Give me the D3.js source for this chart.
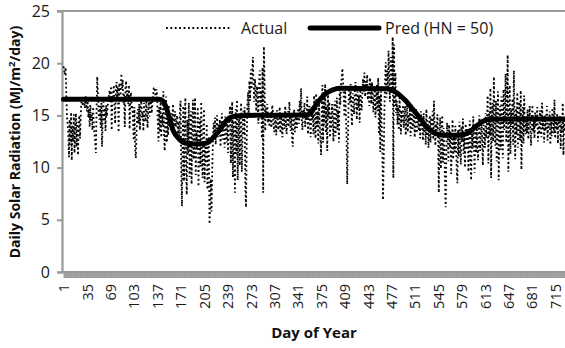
<!DOCTYPE html>
<html>
<head>
<meta charset="utf-8">
<script src="https://cdn.jsdelivr.net/npm/d3@7"></script>
<style>
  html, body { margin: 0; padding: 0; background: #fff; }
  svg { display: block; font-family: "Open Sans", sans-serif; }
</style>
</head>
<body>
<svg id="chart" width="565" height="348"></svg>
<script>
// Daily observed solar radiation (MJ/m²/day), day 1 .. 730
const actual = [
  19.7, 19.3, 18.9, 19.6, 17.2, 15.0, 14.2,
  13.1, 11.0, 14.6, 12.2, 15.3, 10.7, 14.0, 12.5, 15.1, 11.4, 13.8, 15.2, 12.0, 14.4, 11.2, 13.6, 15.0, 12.8, 14.9,
  16.2, 16.8, 15.9, 16.7, 16.4, 15.7, 16.9, 16.1, 15.4, 16.6,
  14.8, 15.6, 13.9, 16.0, 14.5, 15.2, 13.6, 15.8, 14.1, 13.2, 12.5,
  11.4,
  15.5, 18.7, 17.1, 15.3,
  14.6, 15.9, 13.8, 16.2, 12.0, 15.0, 16.3, 14.4, 15.7, 13.5, 16.0, 14.9, 15.8, 16.4,
  16.9, 17.4, 16.3, 17.8, 13.6, 17.2, 16.8, 17.9, 16.0, 14.2, 17.5, 18.2, 16.6, 17.7, 13.4, 18.1, 17.3, 16.9,
  19.0, 17.6, 18.4, 16.2, 17.0, 13.9, 17.8, 18.3, 16.5, 17.4, 16.1, 17.9, 13.7, 16.4, 17.2, 15.6, 16.0,
  14.3, 12.6, 15.8, 11.8, 10.9, 13.2, 15.1,
  15.6, 14.2, 16.1, 13.6, 15.9, 16.4, 14.8, 15.3, 13.5, 16.2, 15.0, 14.4, 16.5, 15.7, 13.8, 15.4, 16.3, 14.9,
  15.8, 16.6, 15.2, 16.0,
  16.8, 17.6, 17.7, 17.2, 16.4, 17.5, 16.9,
  14.2, 12.5, 15.8, 13.4, 16.3, 12.9, 15.1, 14.0,
  17.3, 13.2, 11.6, 15.5, 16.8, 12.4, 14.7, 13.1, 16.0, 14.3,
  14.5, 13.8, 15.2, 14.1, 16.1, 13.5, 14.8, 15.4, 13.9, 14.6, 15.0, 13.2, 14.4, 12.8, 15.3,
  16.4, 9.8, 6.3, 12.5, 15.9, 8.7, 13.8, 16.7, 10.2, 7.4, 14.6, 11.3, 16.2, 9.1, 12.8, 15.4,
  8.4, 13.6, 16.5, 10.8, 12.2, 16.7, 9.3, 13.4, 11.7, 15.8, 8.2, 12.9, 14.7, 10.1, 16.3, 11.5, 9.0, 13.3,
  15.6, 8.6, 12.1, 10.4, 14.2, 7.9, 11.8, 13.0,
  4.6, 6.3, 8.9, 5.8, 9.7,
  12.6, 14.3, 13.1, 14.8, 12.2, 13.7, 15.0, 12.9, 14.1, 13.4, 14.6, 12.0, 13.9, 15.2, 12.7, 14.4, 13.2, 11.9,
  14.9, 13.6, 12.4, 14.2, 11.4, 13.8, 14.7,
  15.9, 10.4, 13.2, 16.3, 9.1, 14.5, 12.0, 7.6, 15.6, 11.3, 16.5, 8.8, 13.7, 15.1, 10.2, 14.8, 16.2, 9.6, 12.9, 15.4,
  13.1, 15.8, 8.4, 6.2, 12.3, 16.0, 17.2, 15.1, 18.3, 16.4, 19.4, 17.5, 18.8, 20.6, 17.9, 16.3, 18.5, 17.1, 15.4,
  17.8, 16.6, 14.2, 18.1, 19.3, 15.9, 17.4, 12.8, 19.6, 7.6, 21.6, 18.2, 13.5, 15.7, 14.8, 16.1, 14.3, 15.2, 13.9,
  14.6, 15.3, 13.8, 16.0, 15.6, 14.1, 13.4, 15.0, 14.4, 13.1, 15.5, 14.7, 13.6, 14.2, 15.8, 13.3, 14.9, 14.0, 12.9, 15.2,
  14.5, 13.7, 15.9, 14.3, 13.2, 14.8, 15.4, 13.9, 16.3, 14.6, 13.5, 15.1, 12.6, 12.0, 14.7, 15.6, 13.4, 14.1, 15.3, 13.8,
  14.9, 15.7, 14.2, 16.4, 15.0, 17.6, 14.4, 13.6, 15.5, 14.8, 16.2, 13.9, 15.3, 14.5, 16.8, 13.2, 14.7, 15.9, 14.1, 12.9,
  15.4, 14.6,
  15.8, 13.2, 16.9, 14.5, 12.8, 17.1, 13.9, 15.4, 12.3, 16.2, 14.0, 13.1, 11.2,
  15.6, 17.9, 12.4, 16.6, 14.1, 18.0, 13.3, 15.9, 11.6, 17.2, 14.8, 16.3, 12.9,
  15.2, 13.7, 16.1, 14.4, 12.5, 15.8, 16.4, 13.0, 14.9, 16.7, 13.6, 15.5, 12.4, 17.4, 16.0,
  17.9, 18.6, 19.5, 18.1, 16.8, 14.9, 17.6, 15.2, 13.1, 8.4, 12.6, 16.3,
  17.8, 16.2, 18.0, 15.4, 14.0, 17.1, 16.6, 15.1, 17.5, 18.2, 16.0, 14.6, 17.3, 15.7, 16.9, 14.3, 17.7, 16.4, 15.5, 17.0,
  18.5, 17.2, 19.1, 16.8, 18.3, 17.6, 18.9, 16.5, 17.8, 15.9, 18.6, 17.4, 16.1, 18.2, 17.0, 15.3, 16.7, 17.5, 14.8, 16.2,
  17.9,
  15.4, 18.6, 13.2, 16.9, 11.5, 17.3, 14.1, 12.0, 6.9, 10.8, 15.6,
  18.4, 20.1, 16.7, 19.3, 17.5, 21.2, 18.8, 16.3, 20.6, 19.4, 17.2, 22.5, 9.0, 21.8, 15.9, 19.1,
  15.2, 16.4, 14.1, 15.8, 13.6, 16.7, 14.9, 13.2, 15.5, 14.3, 16.0, 13.8, 14.7, 15.9, 13.1, 14.5, 16.2, 13.4, 15.0, 14.2,
  15.7, 13.0, 14.8, 16.1, 13.7, 14.4, 15.3, 12.9, 14.6, 15.6, 13.3, 14.0, 15.1, 13.5, 14.9, 12.8, 15.4, 13.9, 14.3,
  12.6, 15.2, 13.4, 14.1, 12.2, 15.6, 13.0, 14.5, 11.9, 13.7, 15.0, 12.4, 14.8, 13.3, 15.4, 12.7, 16.4, 13.8, 12.1, 14.2,
  13.5, 15.1, 12.9,
  7.6, 13.4, 14.8, 9.9, 12.6, 15.0, 10.5, 13.8, 12.2, 8.7, 6.2, 11.4, 14.3,
  12.8, 10.6, 14.1, 11.9, 13.5, 9.4, 12.3, 14.6, 10.8, 13.2, 11.5, 14.0, 12.7, 9.8, 8.5, 13.6, 11.1, 14.4, 12.0, 10.3,
  13.9, 12.5, 14.7, 11.3, 13.1, 10.0, 14.2, 12.9, 11.7, 13.8, 9.6, 12.4, 14.5, 10.9, 8.8, 13.3, 11.8, 14.9, 12.6, 9.5,
  13.7, 11.4, 14.3, 12.1, 10.7, 13.5, 15.0, 11.6, 13.0, 14.6, 12.3, 10.2, 14.1, 13.4, 11.9, 15.2, 12.8,
  14.7, 16.9, 10.4, 15.3, 13.1, 17.6, 9.0, 14.9, 16.2, 12.5, 18.7, 13.8,
  12.1, 16.4, 10.6, 14.8, 17.3, 8.8, 13.5, 15.9, 11.7, 16.8, 14.2, 10.9, 17.5, 13.6, 15.2, 19.0, 12.4, 16.1, 20.8, 9.6,
  14.7, 17.9, 11.3, 15.5, 13.9, 16.6,
  12.2, 19.3, 14.5, 10.8, 15.7, 13.1, 17.2, 11.9, 14.9, 16.3, 12.6, 17.4, 9.8, 13.7, 15.8, 12.3, 16.9, 14.1, 13.2,
  14.8, 13.3, 15.6, 12.7, 14.2, 15.9, 13.6, 12.1, 14.9, 16.0, 13.4, 14.5, 12.8, 15.3, 13.9, 14.6, 15.8, 12.5, 14.0, 13.2,
  15.5, 14.3, 12.9, 16.2, 13.7, 14.8, 12.4, 15.1, 13.5, 14.7, 15.9, 12.6, 14.1, 13.8, 15.4, 12.2, 14.4, 13.0, 15.7, 14.6,
  13.3, 16.5, 12.8, 14.9, 13.6, 15.2, 12.3, 14.5, 13.9, 15.0, 11.8, 14.2, 13.4, 16.2, 11.2, 14.7, 13.5, 14.0
];

// Model prediction (HN = 50), sampled on selected days
const predDays = [1, 140, 145, 150, 155, 160, 168, 178, 193, 205, 213, 220, 228, 235, 242, 252, 265,
  355, 363, 372, 382, 392, 402, 470, 480, 490, 498, 508, 518, 528, 537, 547, 560, 580, 588, 595, 604, 614, 625, 730];
const predValues = [16.55, 16.55, 16.4, 15.8, 14.7, 13.6, 12.8, 12.35, 12.25, 12.3, 12.5, 13.0, 13.6, 14.3, 14.75, 14.95, 15.0,
  15.05, 15.6, 16.4, 17.1, 17.45, 17.6, 17.55, 17.35, 16.9, 16.4, 15.6, 14.8, 13.9, 13.4, 13.15, 13.1, 13.15, 13.3, 13.65, 14.15, 14.55, 14.65, 14.65];

const yTicks = [0, 5, 10, 15, 20, 25];
const xLabelDays = d3.range(1, 731, 34);
const seriesNames = ["Actual", "Pred (HN = 50)"];
const xTitle = "Day of Year";

const svg = d3.select("#chart");
const axisGray = "#999999";
const dotDash = "1.8,2.6";

const x = d3.scaleLinear().domain([1, 730]).range([63.5, 565.5]);
const y = d3.scaleLinear().domain([0, 25]).range([272, 11]);

// top boundary line at 25
svg.append("line")
  .attr("x1", 57).attr("x2", 565)
  .attr("y1", y(25)).attr("y2", y(25))
  .attr("stroke", axisGray).attr("stroke-width", 2);

// y axis
const yAxis = svg.append("g")
  .attr("transform", "translate(62,0)")
  .call(d3.axisLeft(y).tickValues(yTicks).tickSize(5).tickPadding(7));
yAxis.select(".domain").attr("stroke", axisGray).attr("stroke-width", 2.2);
yAxis.selectAll(".tick line").attr("stroke", axisGray).attr("stroke-width", 2);
yAxis.selectAll(".tick text")
  .attr("fill", "#1a1a1a").attr("font-size", 16)
  .attr("font-family", "'Open Sans', sans-serif");

// x axis: one tick per day forms a solid band beneath the axis
const allDays = d3.range(1, 731);
const xTicksBand = svg.append("g")
  .attr("transform", `translate(0,${y(0)})`)
  .call(d3.axisBottom(x).tickValues(allDays).tickSize(6).tickFormat(""));
xTicksBand.select(".domain").remove();
xTicksBand.selectAll(".tick line").attr("stroke", axisGray).attr("stroke-width", 1);

svg.append("line")
  .attr("x1", 61).attr("x2", 565)
  .attr("y1", y(0)).attr("y2", y(0))
  .attr("stroke", axisGray).attr("stroke-width", 2);

// x tick labels, rotated
const xLabels = svg.append("g")
  .attr("transform", `translate(0,${y(0)})`)
  .call(d3.axisBottom(x).tickValues(xLabelDays).tickSize(0).tickFormat(d3.format("d")));
xLabels.select(".domain").remove();
xLabels.selectAll(".tick text")
  .attr("transform", "rotate(-90)")
  .attr("text-anchor", "end")
  .attr("x", -12).attr("y", 0).attr("dy", "0.36em")
  .attr("fill", "#1a1a1a").attr("font-size", 14.5)
  .attr("font-family", "'Open Sans', sans-serif");

// series lines
const line = d3.line().x(d => x(d[0])).y(d => y(d[1]));

svg.append("path")
  .datum(actual.map((v, i) => [i + 1, v]))
  .attr("d", line)
  .attr("fill", "none")
  .attr("stroke", "#000")
  .attr("stroke-width", 1.8)
  .attr("stroke-dasharray", dotDash);

svg.append("path")
  .datum(predDays.map((d, i) => [d, predValues[i]]))
  .attr("d", line.curve(d3.curveMonotoneX))
  .attr("fill", "none")
  .attr("stroke", "#000")
  .attr("stroke-width", 5)
  .attr("stroke-linecap", "round")
  .attr("stroke-linejoin", "round");

// legend
const legend = svg.append("g").attr("font-size", 16).attr("fill", "#1a1a1a");
legend.append("line")
  .attr("x1", 166).attr("x2", 232).attr("y1", 28).attr("y2", 28)
  .attr("stroke", "#000").attr("stroke-width", 1.8).attr("stroke-dasharray", dotDash);
legend.append("text").attr("x", 241).attr("y", 34).text(seriesNames[0]);
legend.append("line")
  .attr("x1", 310).attr("x2", 379).attr("y1", 28).attr("y2", 28)
  .attr("stroke", "#000").attr("stroke-width", 5).attr("stroke-linecap", "round");
legend.append("text").attr("x", 385).attr("y", 34).text(seriesNames[1]);

// axis titles
svg.append("text")
  .attr("x", 314).attr("y", 338)
  .attr("text-anchor", "middle")
  .attr("font-weight", "bold").attr("font-size", 15).attr("fill", "#111")
  .text(xTitle);

const yTitle = svg.append("text")
  .attr("transform", "translate(20,142) rotate(-90)")
  .attr("text-anchor", "middle")
  .attr("font-weight", "bold").attr("font-size", 14).attr("fill", "#111");
yTitle.append("tspan").text("Daily Solar Radiation (MJ/m");
yTitle.append("tspan").attr("font-size", 9.5).attr("dy", "-0.5em").text("2");
yTitle.append("tspan").attr("dy", "0.35em").text("/day)");
</script>
</body>
</html>
